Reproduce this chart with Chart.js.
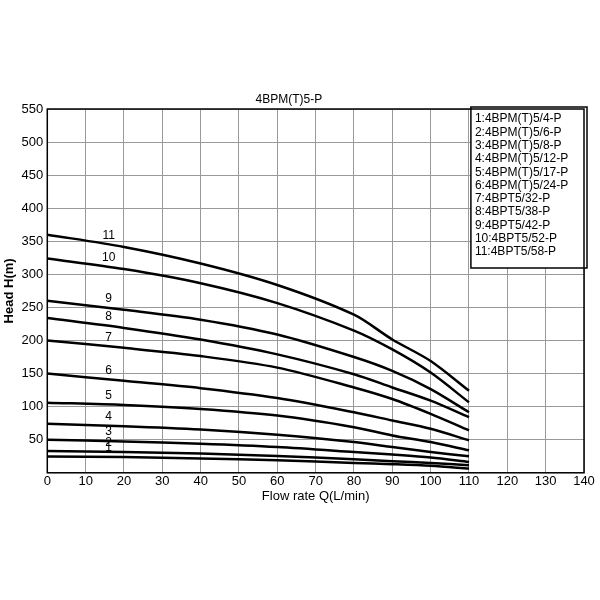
<!DOCTYPE html>
<html><head><meta charset="utf-8">
<script src="https://cdn.jsdelivr.net/npm/chart.js"></script>
<style>html,body{margin:0;background:#fff}#w{width:600px;height:600px}</style>
</head><body><div id="w"><canvas id="c"></canvas></div>
<script>
const flows = [0,20,40,60,80,90,100,110];
const names = ["1:4BPM(T)5/4-P","2:4BPM(T)5/6-P","3:4BPM(T)5/8-P","4:4BPM(T)5/12-P","5:4BPM(T)5/17-P","6:4BPM(T)5/24-P","7:4BPT5/32-P","8:4BPT5/38-P","9:4BPT5/42-P","10:4BPT5/52-P","11:4BPT5/58-P"];
const h1 = [24.5,24,21.5,19,15,13,10.5,6.5];
const h2 = [33,31.5,29,25.5,20.5,17.5,15,11.5];
const h3 = [50,47.5,44,39,31.5,27.5,23,16.5];
const h4 = [74,70.5,65.5,57.5,46.5,39,31.5,25];
const h5 = [106,102.5,96.5,86.5,69,56.5,46.5,34];
const h6 = [150,139,128,113,91.5,79,66.5,49];
const h7 = [200,189,176.5,159,129,111.5,89,64];
const h8 = [234,219,201.5,179,149,129,109,84];
const h9 = [260,246.5,231.5,209,175,154,126.5,91.5];
const h10 = [324,308,286.5,256.5,215,186.5,151.5,106.5];
const h11 = [360,341.5,316.5,284,239,201.5,169,124];
const series = [h1,h2,h3,h4,h5,h6,h7,h8,h9,h10,h11];
const labelX = 16;
const font = "'Liberation Sans', Arial, sans-serif";

const overlay = {
  id:'overlay',
  afterDraw(ch){
    const c=ch.ctx, xs=ch.scales.x, ys=ch.scales.y, a=ch.chartArea;
    c.save();
    c.fillStyle='#000'; c.font='12px '+font; c.textAlign='center'; c.textBaseline='bottom';
    series.forEach((s,i)=>{
      const v = s[0]+(s[1]-s[0])*labelX/20;
      c.fillText(String(i+1), xs.getPixelForValue(labelX), ys.getPixelForValue(v)-3);
    });
    c.fillText('4BPM(T)5-P', xs.getPixelForValue(63), a.top-3);
    const bx=xs.getPixelForValue(110.5), by=a.top-2, bw=a.right-bx+3, bh=161;
    c.fillStyle='#fff'; c.fillRect(bx,by,bw,bh);
    c.strokeStyle='#000'; c.lineWidth=1.5; c.strokeRect(bx,by,bw,bh);
    c.fillStyle='#000'; c.textAlign='left'; c.textBaseline='middle'; c.font='12px '+font;
    names.forEach((n,i)=>c.fillText(n,bx+4,by+12+i*13.3));
    c.strokeStyle='#000'; c.lineWidth=1.5; c.strokeRect(a.left,a.top,a.right-a.left,a.bottom-a.top);
    c.restore();
  }
};

new Chart(document.getElementById('c'),{
  type:'line',
  data:{datasets: series.map((s,i)=>({label:names[i], data:flows.map((f,j)=>({x:f,y:s[j]})), borderColor:'#000', borderWidth:2.5, pointRadius:0, tension:0.3}))},
  options:{
    responsive:true, maintainAspectRatio:false, animation:false,
    layout:{padding:{left:2,right:16,top:109,bottom:98}},
    plugins:{legend:{display:false},tooltip:{enabled:false}},
    scales:{
      x:{type:'linear',min:0,max:140,ticks:{stepSize:10,color:'#000',font:{size:13,family:font},padding:1},
         grid:{color:'#999',lineWidth:1,drawTicks:false},border:{display:false},
         title:{display:true,text:'Flow rate Q(L/min)',color:'#000',font:{size:13,family:font},padding:-2}},
      y:{min:0,max:550,ticks:{stepSize:50,color:'#000',font:{size:13,family:font},padding:4,callback:v=>v===0?'':v},
         grid:{color:'#999',lineWidth:1,drawTicks:false},border:{display:false},
         title:{display:true,text:'Head H(m)',color:'#000',font:{size:13,family:font,weight:'bold'},padding:0}}
    }
  },
  plugins:[overlay]
});
</script></body></html>
